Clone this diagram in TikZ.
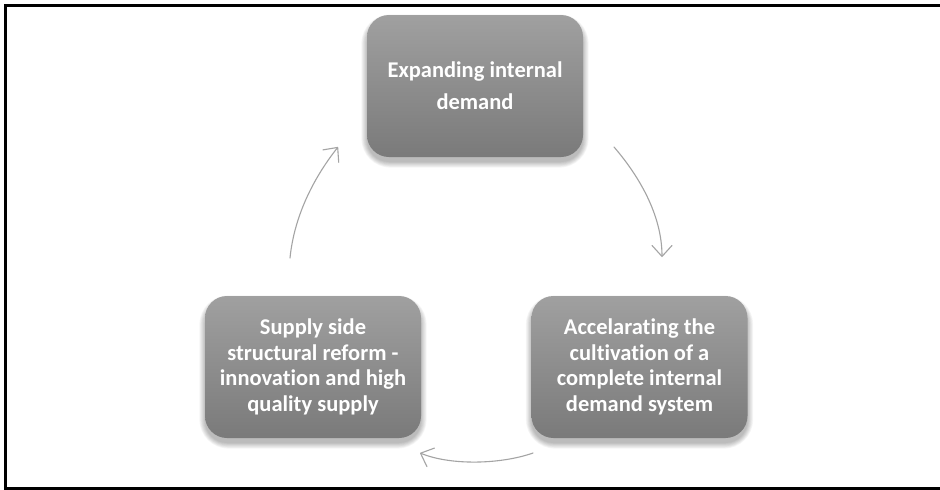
\documentclass[tikz,border=0pt]{standalone}
\usepackage{fontspec}
\setmainfont{Carlito}[Ligatures=NoCommon]
\usetikzlibrary{arrows.meta,calc}
\definecolor{boxtop}{HTML}{A0A0A0}
\definecolor{boxbot}{HTML}{7A7A7A}
\definecolor{arrowgray}{HTML}{A4A4A4}
\tikzset{
  box/.style={rounded corners=22pt, minimum width=216pt, minimum height=142pt,
    top color=boxtop, bottom color=boxbot, draw=none, text=white, align=center,
    inner sep=0pt, font=\bfseries\fontsize{22.5}{25.5}\selectfont},
  shadowlayer/.style={fill=black, fill opacity=0.035, draw=none, inner sep=0pt},
  cyc/.style={draw=arrowgray, line width=1.1pt, line cap=round,
    -{Straight Barb[length=11pt,width=20pt,line width=1.1pt,round]}},
  frame/.style={draw=black, line width=3pt}
}
\newcommand\softshadow[1]{%
  \foreach \i in {0,...,7}{%
    \node[shadowlayer, rounded corners={22pt+\i pt},
      minimum width={216pt+1.6*\i pt}, minimum height={142pt+1.6*\i pt}]
      at ($(#1)+(0,5)$) {};
  }%
}
\begin{document}
\begin{tikzpicture}[x=1pt,y=-1pt]
\useasboundingbox (0,0) rectangle (940,490);
\fill[white] (0,0) rectangle (940,490);
\draw[frame] (5.5,5.5) rectangle (960,488.5);

\coordinate (ctop) at (475,86);
\coordinate (cright) at (639.5,367);
\coordinate (cleft) at (313,367);

\softshadow{ctop}
\softshadow{cright}
\softshadow{cleft}

\node[box, font=\bfseries\fontsize{22.5}{32}\selectfont] (top) at (ctop) {Expanding internal\\demand};
\node[box] (right) at (cright) {Accelarating the\\cultivation of a\\complete internal\\demand system};
\node[box] (left) at (cleft) {Supply side\\structural reform -\\innovation and high\\quality supply};

\coordinate (a1s) at (614,147);
\coordinate (a1e) at (662,257);
\coordinate (a2s) at (533,453);
\coordinate (a2e) at (420,453);
\coordinate (a3s) at (290,258);
\coordinate (a3e) at (338,147);

\draw[cyc] (a1s) .. controls (639,176) and (662,215) .. (a1e);
\draw[cyc] (a2s) .. controls (502,464) and (452,466) .. (a2e);
\draw[cyc] (a3s) .. controls (294,218) and (312,180) .. (a3e);
\end{tikzpicture}
\end{document}
